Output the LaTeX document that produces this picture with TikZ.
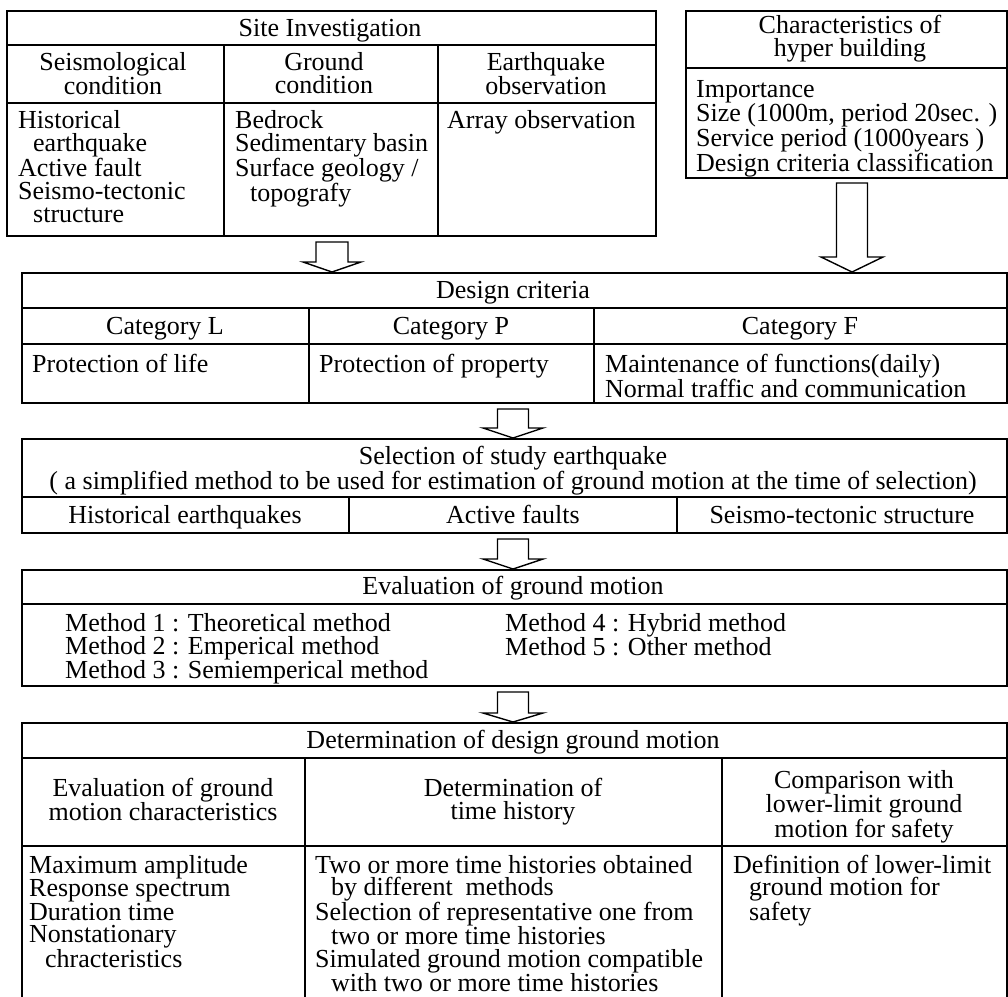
\documentclass[tikz,border=0pt]{standalone}
\usepackage{fontspec}
\setmainfont{Liberation Serif}
\usetikzlibrary{calc}
% strut that fixes the height of the first text line
\newcommand\firststrut{\rule{0pt}{19pt}}
% hollow block arrow: from, to, shaft half width, head half width, head length
\newcommand\blockarrow[5]{%
  \draw[hollow] let \p1=(#1), \p2=(#2) in
    (\x1-#3,\y1) -- (\x1+#3,\y1) -- (\x1+#3,\y2+#5) -- (\x1+#4,\y2+#5)
    -- (\x1,\y2) -- (\x1-#4,\y2+#5) -- (\x1-#3,\y2+#5) -- cycle;}
\tikzset{
  frame/.style={draw, line width=1.5pt, inner sep=0pt, anchor=north west},
  rule/.style={line width=1.4pt},
  lbl/.style={font=\fontsize{26}{23}\selectfont, inner sep=0pt, align=center, anchor=north},
  txt/.style={font=\fontsize{26}{23}\selectfont, inner sep=0pt, align=left, anchor=north west},
  tighttxt/.style={txt, font=\fontsize{26}{22.2}\selectfont},
  hollow/.style={draw, fill=white, line width=1.4pt, line join=miter},
}
\begin{document}
\begin{tikzpicture}[x=1pt, y=-1pt]
\useasboundingbox (0,0) rectangle (1008,996);

% ---------- Site investigation ----------
\node[frame, minimum width=649pt, minimum height=225pt] (site) at (6,10) {};
\draw[rule] (6,45) -- (655,45);
\draw[rule] (6,103) -- (655,103);
\draw[rule] (224,45) -- (224,235);
\draw[rule] (438,45) -- (438,235);
\node[lbl] (siteT) at (330,17) {\firststrut Site Investigation};
\node[lbl] (siteH1) at (113,51) {\firststrut Seismological\\condition};
\node[lbl] (siteH2) at (324,51) {\firststrut Ground\\condition};
\node[lbl] (siteH3) at (546,51) {\firststrut Earthquake\\observation};
\node[txt] (siteC1) at (18,109) {\firststrut Historical\\\hspace*{15pt}earthquake\\Active fault\\Seismo-tectonic\\\hspace*{15pt}structure};
\node[txt] (siteC2) at (235,109) {\firststrut Bedrock\\Sedimentary basin\\Surface geology /\\\hspace*{15pt}topografy};
\node[txt] (siteC3) at (447,109) {\firststrut Array observation};

% ---------- Building characteristics ----------
\node[frame, minimum width=321pt, minimum height=167pt] (bldg) at (685,10) {};
\draw[rule] (685,68) -- (1006,68);
\node[lbl] (bldgT) at (850,14) {\firststrut Characteristics of\\hyper building};
\node[txt] (bldgC) at (696,78) {\firststrut Importance\\Size (1000m, period 20sec. )\\Service period (1000years )\\Design criteria classification};

% ---------- Design criteria ----------
\node[frame, minimum width=985pt, minimum height=130pt] (crit) at (21,272) {};
\draw[rule] (21,308) -- (1006,308);
\draw[rule] (21,344) -- (1006,344);
\draw[rule] (309,308) -- (309,402);
\draw[rule] (594,308) -- (594,402);
\node[lbl] (critT) at (513,279) {\firststrut Design criteria};
\node[lbl] (catL) at (165,315) {\firststrut Category L};
\node[lbl] (catP) at (451,315) {\firststrut Category P};
\node[lbl] (catF) at (800,315) {\firststrut Category F};
\node[txt] (critL) at (32,353) {\firststrut Protection of life};
\node[txt] (critP) at (319,353) {\firststrut Protection of property};
\node[txt] (critF) at (605,353) {\firststrut Maintenance of functions(daily)\\Normal traffic and communication};

% ---------- Selection of study earthquake ----------
\node[frame, minimum width=985pt, minimum height=94pt] (sel) at (21,438) {};
\draw[rule] (21,497) -- (1006,497);
\draw[rule] (349,497) -- (349,532);
\draw[rule] (677,497) -- (677,532);
\node[lbl] (selT) at (513,445) {\firststrut Selection of study earthquake\\( a simplified method to be used for estimation of ground motion at the time of selection)};
\node[lbl] (selA) at (185,504) {\firststrut Historical earthquakes};
\node[lbl] (selB) at (513,504) {\firststrut Active faults};
\node[lbl] (selC) at (842,504) {\firststrut Seismo-tectonic structure};

% ---------- Evaluation of ground motion ----------
\node[frame, minimum width=985pt, minimum height=116pt] (eval) at (21,569) {};
\draw[rule] (21,604) -- (1006,604);
\node[lbl] (evalT) at (513,575) {\firststrut Evaluation of ground motion};
\node[txt] (evalL) at (65,612) {\firststrut Method 1 : Theoretical method\\Method 2 : Emperical method\\Method 3 : Semiemperical method};
\node[txt] (evalR) at (505,612) {\firststrut Method 4 : Hybrid method\\Method 5 : Other method};

% ---------- Determination of design ground motion ----------
\node[frame, minimum width=985pt, minimum height=280pt] (det) at (21,722) {};
\draw[rule] (21,758) -- (1006,758);
\draw[rule] (21,846) -- (1006,846);
\draw[rule] (305,758) -- (305,1002);
\draw[rule] (722,758) -- (722,1002);
\node[lbl] (detT) at (513,729) {\firststrut Determination of design ground motion};
\node[lbl] (detH1) at (163,777) {\firststrut Evaluation of ground\\motion characteristics};
\node[lbl] (detH2) at (513,777) {\firststrut Determination of\\time history};
\node[lbl] (detH3) at (864,769) {\firststrut Comparison with\\lower-limit ground\\motion for safety};
\node[tighttxt] (detC1) at (29,854) {\firststrut Maximum amplitude\\Response spectrum\\Duration time\\Nonstationary\\\hspace*{16pt}chracteristics};
\node[tighttxt] (detC2) at (315,854) {\firststrut Two or more time histories obtained\\\hspace*{16pt}by different\ \ methods\\Selection of representative one from\\\hspace*{16pt}two or more time histories\\Simulated ground motion compatible\\\hspace*{16pt}with two or more time histories};
\node[tighttxt] (detC3) at (733,854) {\firststrut Definition of lower-limit\\\hspace*{16pt}ground motion for\\\hspace*{16pt}safety};

% ---------- Arrows between the stages ----------
\coordinate (a1) at (332,242);
\coordinate (a2) at (852,183);
\coordinate (a3) at (513,409);
\coordinate (a4) at (513,539);
\coordinate (a5) at (513,692);
\blockarrow{a1}{crit.north -| a1}{16pt}{29pt}{10pt}
\blockarrow{a2}{crit.north -| a2}{15.5pt}{31pt}{15pt}
\blockarrow{a3}{sel.north -| a3}{15.5pt}{30pt}{10pt}
\blockarrow{a4}{eval.north -| a4}{15.5pt}{30pt}{10pt}
\blockarrow{a5}{det.north -| a5}{15.5pt}{30pt}{9pt}
\end{tikzpicture}
\end{document}
